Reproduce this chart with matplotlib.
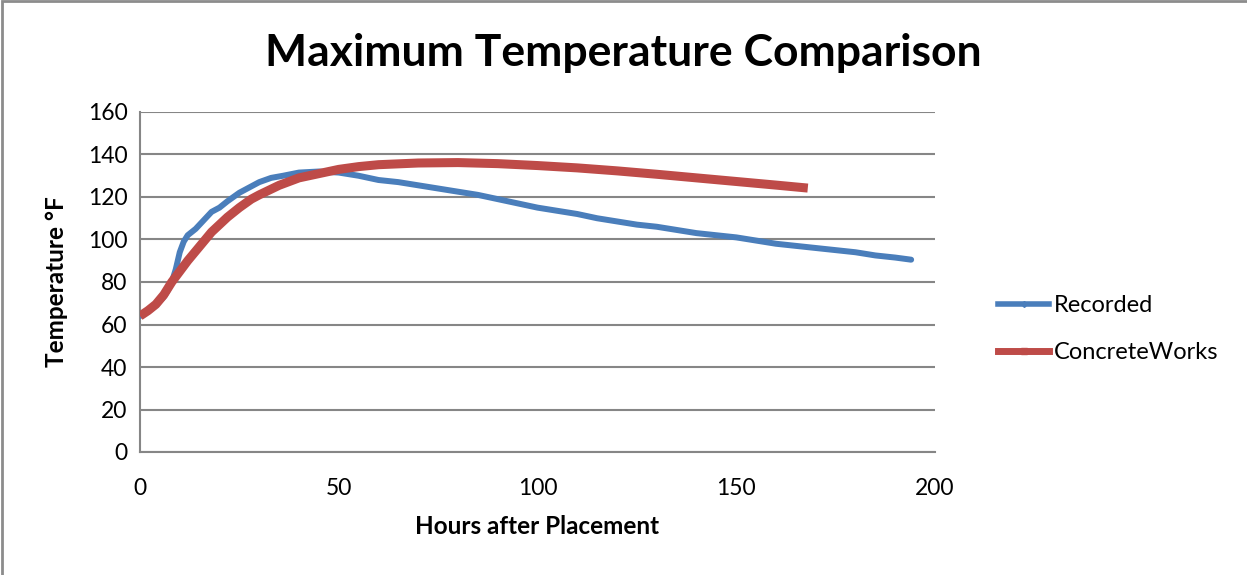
import matplotlib
matplotlib.use("Agg")
import matplotlib.pyplot as plt
from matplotlib.lines import Line2D
from matplotlib.patches import Rectangle

# Recorded maximum temperature (hours, °F)
recorded_hours = [0, 2, 4, 6, 7, 8, 9, 10, 11, 12, 14, 16, 18, 20, 22, 25, 28, 30,
                  33, 36, 40, 45, 50, 55, 60, 65, 70, 75, 80, 85, 90, 95, 100, 105,
                  110, 115, 120, 125, 130, 135, 140, 145, 150, 155, 160, 165, 170,
                  175, 180, 185, 190, 194]
recorded_temp = [64, 66, 69, 73, 76, 80, 86, 94, 99, 102, 105, 109, 113, 115, 118,
                 122, 125, 127, 129, 130, 131.5, 132, 131.5, 130, 128, 127, 125.5,
                 124, 122.5, 121, 119, 117, 115, 113.5, 112, 110, 108.5, 107, 106,
                 104.5, 103, 102, 101, 99.5, 98, 97, 96, 95, 94, 92.5, 91.5, 90.5]

# ConcreteWorks predicted maximum temperature (hours, °F)
cw_hours = [0, 2, 4, 6, 8, 10, 12, 14, 16, 18, 20, 22, 25, 28, 30, 35, 40, 45, 50,
            55, 60, 70, 80, 90, 100, 110, 120, 130, 140, 150, 160, 168]
cw_temp = [64, 66.5, 69.5, 74, 80, 85, 90, 94.5, 99, 103.5, 107, 110.5, 115, 119,
           121, 125.5, 129, 131, 133, 134.3, 135.2, 136, 136.2, 135.7, 134.8, 133.7,
           132.3, 130.7, 129, 127.3, 125.6, 124.2]

x_ticks = [0, 50, 100, 150, 200]
y_ticks = [0, 20, 40, 60, 80, 100, 120, 140, 160]

plt.rcParams['font.family'] = ['Lato', 'DejaVu Sans']

fig = plt.figure(figsize=(12.47, 5.75), dpi=100)
ax = fig.add_axes([140 / 1247, 1 - 452 / 575, 795 / 1247, 340 / 575])

blue = '#4a7ebb'
red = '#be4b48'
grid_c = '#868686'

ax.plot(recorded_hours, recorded_temp, color=blue, lw=4.3, solid_capstyle='round',
        solid_joinstyle='round', zorder=3, label='Recorded')
ax.plot(cw_hours, cw_temp, color=red, lw=6.5, solid_capstyle='butt',
        solid_joinstyle='round', zorder=4, label='ConcreteWorks')

ax.set_xlim(0, 200)
ax.set_ylim(0, 160)
ax.set_xticks(x_ticks)
ax.set_yticks(y_ticks)
ax.tick_params(length=0, labelsize=16.5, pad=9)
ax.tick_params(axis='x', pad=19)
ax.yaxis.grid(True, color=grid_c, lw=1.5)
ax.set_axisbelow(True)
for s in ['top', 'right']:
    ax.spines[s].set_visible(False)
for s in ['left', 'bottom']:
    ax.spines[s].set_color(grid_c)
    ax.spines[s].set_linewidth(1.5)

ax.set_xlabel('Hours after Placement', fontsize=17.5, fontweight='bold', labelpad=11)
ax.set_ylabel('Temperature °F', fontsize=17.5, fontweight='bold', labelpad=14)

fig.text(0.5, 1 - 53 / 575, 'Maximum Temperature Comparison', ha='center',
         va='center', fontsize=32, fontweight='bold')

handles = [Line2D([], [], color=blue, lw=4, marker='D', markersize=3),
           Line2D([], [], color=red, lw=5, marker='s', markersize=5)]
fig.legend(handles, ['Recorded', 'ConcreteWorks'], loc='center left',
           bbox_to_anchor=(977 / 1247, 1 - 329 / 575), frameon=False,
           fontsize=17, handlelength=2.15, handletextpad=0.2, labelspacing=1.1)

# Chart-area frame along the top and left edges
fig.add_artist(Rectangle((0.0015, -0.1), 1.2, 1.1 - 0.002, transform=fig.transFigure,
                         fill=False, edgecolor='#8c8c8c', lw=2))

fig.savefig('out.png', dpi=100)
